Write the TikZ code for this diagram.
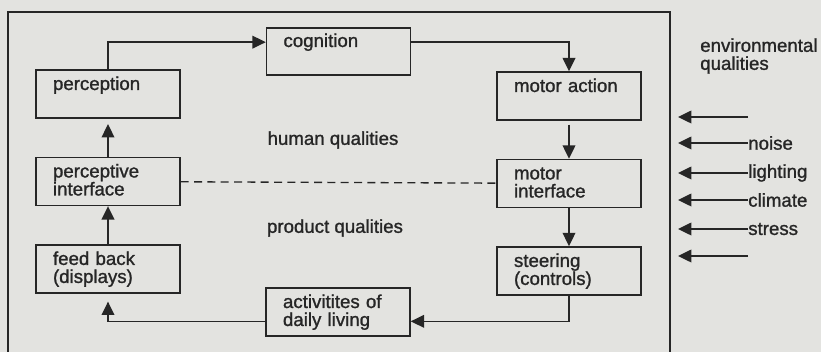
\documentclass[tikz,border=0pt]{standalone}
\usepackage{fontspec}
\setmainfont{Liberation Sans}[FakeBold=1.2]
\definecolor{paper}{RGB}{227, 227, 224}
\definecolor{ink}{RGB}{38, 38, 38}
\usetikzlibrary{arrows.meta, positioning}

\begin{document}
\begin{tikzpicture}[
        x=0.75pt, y=-0.75pt,
        node distance=28.5pt,
        font=\fontsize{14}{13.5}\selectfont, color=ink,
        box/.style={rectangle, draw=ink, line width=1.1pt,
                    minimum width=108pt, text width=82.5pt,
                    inner xsep=12.75pt, inner ysep=0pt,
                    text height=15pt, text depth=21pt, align=left},
        arrow/.style={-{Triangle[length=10pt,width=9.5pt]}, line width=1.1pt, color=ink},
        envarrow/.style={-{Triangle[length=10pt,width=9.5pt]}, line width=1.1pt, color=ink},
        label/.style={inner sep=0pt, anchor=west}
      ]
        \fill[paper] (0,0) rectangle (821,352);
        \useasboundingbox (0,0) rectangle (821,352);
        % frame round the human and product qualities
        \draw[ink, line width=1.1pt] (8,352) -- (8,12) -- (670,12) -- (670,352);

        \node[box] at (108,94)             (perc)  {perception};
        \node[box, below=of perc]          (pint)  {perceptive\\interface};
        \node[box, below=of pint]          (fb)    {feed back\\(displays)};
        \node[box, text height=14.25pt, text depth=21pt]
              at (338.5,51.5)              (cog)   {cognition};
        \node[box] at (569,96)             (mact)  {motor action};
        \node[box, below=of mact]          (mint)  {motor\\interface};
        \node[box, below=of mint]          (steer) {steering\\(controls)};
        \node[box] at (338,312)            (act)   {activitites of\\daily living};

        \node at (333,140) (human)   {human qualities};
        \node at (335,228) (product) {product qualities};

        \draw[arrow] (perc.north) |- ([yshift=7pt]cog.west);
        \draw[arrow] ([yshift=7pt]cog.east) -| (mact.north);
        \draw[arrow, shorten <=3pt] (mact) -- (mint);
        \draw[arrow] (mint) -- (steer);
        \draw[arrow] (steer.south) |- ([yshift=-7pt]act.east);
        \draw[arrow, shorten >=6pt] ([yshift=-7pt]act.west) -| (fb.south);
        \draw[arrow] (fb) -- (pint);
        \draw[arrow, shorten >=4pt] (pint) -- (perc);
        \draw[ink, line width=1pt, dash pattern=on 6pt off 4pt] (pint) -- (mint);

        % environmental qualities acting from outside
        \node[label, align=left] at (700,56) (env) {environmental\\qualities};
        \node[label] at (748,143) (noise)    {noise};
        \node[label] at (748,173) (lighting) {lighting};
        \node[label] at (748,200) (climate)  {climate};
        \node[label] at (748,229) (stress)   {stress};
        \coordinate (e1) at (748,117);
        \coordinate (e6) at (748,256);
        \coordinate (t1) at (678,117);
        \coordinate (t2) at (678,143);
        \coordinate (t3) at (678,173);
        \coordinate (t4) at (678,200);
        \coordinate (t5) at (678,229);
        \coordinate (t6) at (678,256);
        \draw[envarrow] (e1) -- (t1);
        \draw[envarrow] (noise.west) -- (t2);
        \draw[envarrow] (lighting.west) -- (t3);
        \draw[envarrow] (climate.west) -- (t4);
        \draw[envarrow] (stress.west) -- (t5);
        \draw[envarrow] (e6) -- (t6);
      \end{tikzpicture}
\end{document}
